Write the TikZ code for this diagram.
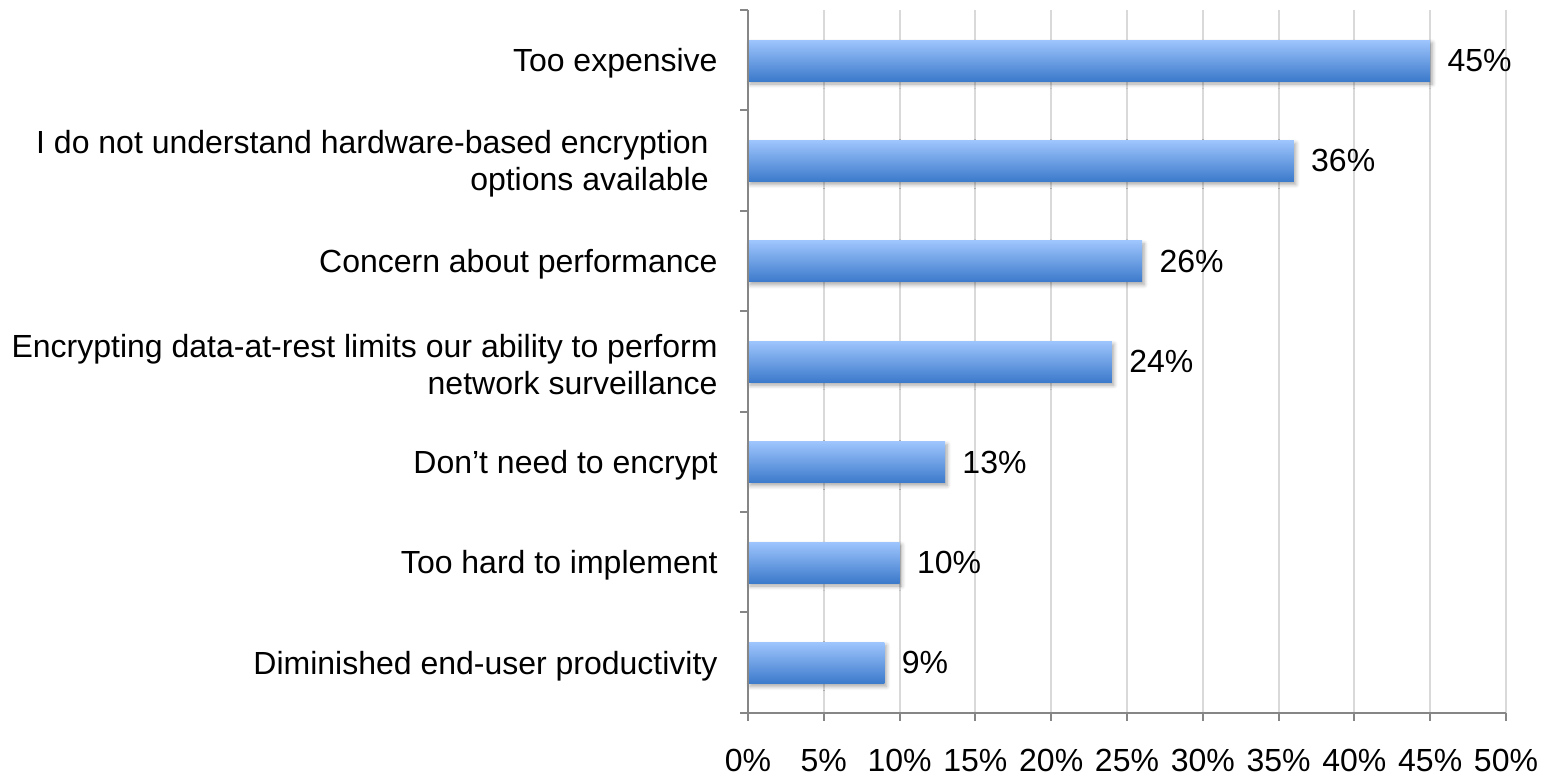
\documentclass[tikz,border=0pt]{standalone}
\usepackage{fontspec}
\setmainfont{Liberation Sans}
\usetikzlibrary{shadows.blur}
\definecolor{bartop}{RGB}{158,197,253}
\definecolor{barbot}{RGB}{60,122,203}
\definecolor{axisgray}{RGB}{134,134,134}
\definecolor{gridgray}{RGB}{217,217,217}
\begin{document}
\begin{tikzpicture}[x=0.5pt,y=-0.5pt,
  font=\fontsize{16}{18.5}\selectfont,
  gridline/.style={draw=gridgray, line width=1pt},
  axisline/.style={draw=axisgray, line width=1pt},
  barstyle/.style={top color=bartop, bottom color=barbot, draw=none,
    blur shadow={shadow xshift=1pt, shadow yshift=-1.5pt, shadow blur steps=6,
      shadow blur radius=2pt, shadow opacity=35}},
  catlabel/.style={anchor=east, align=right, inner sep=0pt},
  vallabel/.style={anchor=west, inner sep=0pt},
  ticklabel/.style={anchor=base, inner sep=0pt}]
  % canvas
  \useasboundingbox (0,0) rectangle (1547,776);
  % vertical grid lines every 5%
  \foreach \k in {1,...,10}
    \draw[gridline] (748+75.8*\k,10) -- (748+75.8*\k,713);
  % bars, values and category labels
  \foreach \i/\v/\lab in {
      0/45/{Too expensive},
      1/36/{I do not understand hardware-based encryption\hspace*{0.28em}\\options available\hspace*{0.28em}},
      2/26/{Concern about performance},
      3/24/{Encrypting data-at-rest limits our ability to perform\\network surveillance},
      4/13/{Don’t need to encrypt},
      5/10/{Too hard to implement},
      6/9/{Diminished end-user productivity}} {
    \pgfmathsetmacro{\yc}{60.5+100.4*\i}
    \pgfmathsetmacro{\xe}{748+15.16*\v}
    \path[barstyle] (748,\yc-20.5) rectangle (\xe,\yc+20.5);
    \coordinate (end\i) at (\xe,\yc);
    \node[vallabel] (val\i) at ([xshift=8.5pt]end\i) {\v\%};
    \node[catlabel] (cat\i) at (718,\yc+3) {\lab};
  }
  % axes
  \draw[axisline] (748,10) -- (748,713) -- (1506,713);
  \foreach \j in {0,...,7}
    \draw[axisline] (740,10+100.4*\j) -- (748,10+100.4*\j);
  \foreach \k in {0,...,10} {
    \draw[axisline] (748+75.8*\k,713) -- (748+75.8*\k,721);
    \pgfmathtruncatemacro{\pc}{5*\k}
    \node[ticklabel] (tick\k) at (748+75.8*\k,771) {\pc\%};
  }
\end{tikzpicture}
\end{document}
